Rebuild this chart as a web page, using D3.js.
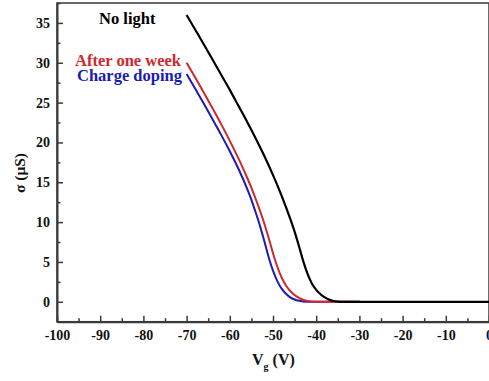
<!DOCTYPE html>
<html>
<head>
<meta charset="utf-8">
<script src="https://cdn.jsdelivr.net/npm/d3@7"></script>
<style>
body { margin: 0; background: #fff; }
svg { display: block; }
text { font-family: "Liberation Serif", "Times New Roman", serif; font-weight: bold; }
</style>
</head>
<body>
<script>
// Data (Vg in V, sigma in µS)
const noLight = [[-70,36.0],[-68,34.15],[-66,32.3],[-64,30.4],[-62,28.5],[-60,26.6],[-58,24.6],[-56,22.6],[-54,20.5],[-52,18.3],[-50,15.9],[-48,13.3],[-46,10.4],[-45,8.8],[-44,7.0],[-43,5.1],[-42,3.5],[-41,2.3],[-40,1.5],[-39,0.95],[-38,0.55],[-37,0.27],[-36,0.1],[-35,0.03],[-34,0],[-20,0],[0,0]];
const afterWeek = [[-70,30.0],[-68,28.15],[-66,26.25],[-64,24.3],[-62,22.3],[-60,20.2],[-58,18.0],[-56,15.6],[-55,14.3],[-54,12.9],[-53,11.4],[-52,9.8],[-51,8.0],[-50,6.1],[-49,4.4],[-48,3.05],[-47,2.05],[-46,1.35],[-45,0.85],[-44,0.5],[-43,0.25],[-42,0.1],[-41,0.03],[-40,0],[-30,0]];
const chargeDoping = [[-70,28.6],[-68,26.75],[-66,24.85],[-64,22.9],[-62,20.95],[-60,18.9],[-58,16.7],[-56,14.2],[-55,12.8],[-54,11.2],[-53,9.5],[-52,7.6],[-51,5.6],[-50,3.9],[-49,2.6],[-48,1.65],[-47,1.0],[-46,0.55],[-45,0.28],[-44,0.12],[-43,0.04],[-42,0],[-30,0]];
const xTicks = [-100,-90,-80,-70,-60,-50,-40,-30,-20,-10,0];
const xMinor = [-95,-85,-75,-65,-55,-45,-35,-25,-15,-5];
const yTicks = [0,5,10,15,20,25,30,35];
const yMinor = [-2.5,2.5,7.5,12.5,17.5,22.5,27.5,32.5,37.5];
const seriesNames = ["No light","After one week","Charge doping"];
const seriesColors = ["#000000","#d0282c","#1c1cb0"];

const W = 489, H = 381;
const L = 57, R = 489, T = 3, B = 321.7;
const svg = d3.select("body").append("svg").attr("width", W).attr("height", H);

const x = d3.scaleLinear().domain([-100, 0]).range([L, R]);
const y = d3.scaleLinear().domain([-2.5, 37.5]).range([B, T]);

const axisColor = "#3a3a3a";
const fmt = d => String(d);

// frame
svg.append("rect").attr("x", L).attr("y", T).attr("width", R - L).attr("height", B - T)
  .attr("fill", "none").attr("stroke", axisColor).attr("stroke-width", 1.5);

// x axis
const gx = svg.append("g").attr("transform", `translate(0,${B})`)
  .call(d3.axisBottom(x).tickValues(xTicks).tickSizeInner(-6).tickSizeOuter(0).tickPadding(8).tickFormat(fmt));
gx.select(".domain").attr("stroke", axisColor).attr("stroke-width", 2);
gx.selectAll(".tick line").attr("stroke", axisColor).attr("stroke-width", 1.5);
gx.selectAll(".tick text").attr("font-size", 14).attr("fill", "#111").attr("font-family", "Liberation Serif").attr("font-weight", "bold");
const gxm = svg.append("g").attr("transform", `translate(0,${B})`)
  .call(d3.axisBottom(x).tickValues(xMinor).tickSizeInner(-3.5).tickSizeOuter(0).tickFormat(""));
gxm.select(".domain").remove();
gxm.selectAll(".tick line").attr("stroke", axisColor).attr("stroke-width", 1.5);

// y axis
const gy = svg.append("g").attr("transform", `translate(${L},0)`)
  .call(d3.axisLeft(y).tickValues(yTicks).tickSizeInner(-6).tickSizeOuter(0).tickPadding(7).tickFormat(fmt));
gy.select(".domain").attr("stroke", axisColor).attr("stroke-width", 2);
gy.selectAll(".tick line").attr("stroke", axisColor).attr("stroke-width", 1.5);
gy.selectAll(".tick text").attr("font-size", 14).attr("fill", "#111").attr("font-family", "Liberation Serif").attr("font-weight", "bold");
const gym = svg.append("g").attr("transform", `translate(${L},0)`)
  .call(d3.axisLeft(y).tickValues(yMinor).tickSizeInner(-3.5).tickSizeOuter(0).tickFormat(""));
gym.select(".domain").remove();
gym.selectAll(".tick line").attr("stroke", axisColor).attr("stroke-width", 1.5);

// lines
const line = d3.line().x(d => x(d[0])).y(d => y(d[1])).curve(d3.curveMonotoneX);
const plotData = [chargeDoping, afterWeek, noLight];
const plotColors = [seriesColors[2], seriesColors[1], seriesColors[0]];
plotData.forEach((d, i) => {
  svg.append("path").datum(d).attr("d", line).attr("fill", "none")
    .attr("stroke", plotColors[i]).attr("stroke-width", i === 2 ? 2.2 : 2);
});

// annotations
svg.append("text").attr("x", 99).attr("y", 24).attr("font-size", 16.5).attr("fill", seriesColors[0]).text(seriesNames[0]);
svg.append("text").attr("x", 75).attr("y", 66).attr("font-size", 16.5).attr("fill", seriesColors[1]).text(seriesNames[1]);
svg.append("text").attr("x", 77).attr("y", 80.5).attr("font-size", 16.5).attr("fill", seriesColors[2]).text(seriesNames[2]);

// axis titles
const xt = svg.append("text").attr("x", 252).attr("y", 365).attr("font-size", 16).attr("fill", "#111");
xt.append("tspan").text("V");
xt.append("tspan").attr("font-size", 10).attr("dy", 5).text("g");
xt.append("tspan").attr("dy", -5).text(" (V)");

svg.append("text").attr("transform", "translate(25,173) rotate(-90)").attr("text-anchor", "middle")
  .attr("font-size", 15.5).attr("fill", "#111").text("σ (μS)");
</script>
</body>
</html>
